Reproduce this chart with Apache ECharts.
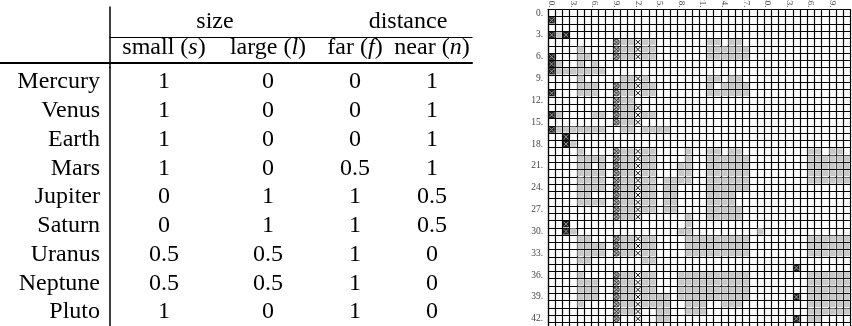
<!DOCTYPE html>
<html><head><meta charset="utf-8">
<script src="https://cdn.jsdelivr.net/npm/echarts@6/dist/echarts.min.js"></script>
<style>html,body{margin:0;padding:0;background:#fff}#c{width:852px;height:326px}</style>
</head><body><div id="c"></div>
<script>
// ---------- table data ----------
const planets = ['Mercury','Venus','Earth','Mars','Jupiter','Saturn','Uranus','Neptune','Pluto'];
const headerWords = ['small','large','far','near'];
const headerSymbols = ['s','l','f','n'];
const groupHeaders = ['size','distance'];
const smallVals = [1,1,1,1,0,0,0.5,0.5,1];
const largeVals = [0,0,0,0,1,1,0.5,0.5,0];
const farVals   = [0,0,0,0.5,1,1,1,1,1];
const nearVals  = [1,1,1,1,0.5,0.5,0,0,0];
const columnValues = [smallVals, largeVals, farVals, nearVals];

// ---------- matrix data ----------
const matrixCols = Array.from({length:42}, (_, i) => String(i));
const matrixRows = Array.from({length:44}, (_, i) => String(i));
// [row, firstCol, lastCol]
const grayRuns = [
 [3,1,1],
 [4,10,11],[4,13,14],[4,22,23],[4,25,26],
 [5,4,4],[5,10,11],[5,13,14],[5,22,27],
 [6,4,5],[6,10,11],[6,13,14],[6,22,27],
 [7,1,1],[7,4,4],[7,6,6],
 [8,1,7],
 [9,4,4],[9,10,11],[9,13,13],[9,22,23],[9,25,26],
 [10,4,6],[10,10,11],[10,13,14],[10,22,22],[10,24,27],
 [11,4,6],[11,10,11],[11,13,14],[11,22,27],
 [12,10,11],
 [13,10,11],
 [14,1,1],[14,6,7],[14,10,11],[14,13,14],
 [15,10,11],
 [16,1,7],[16,10,11],[16,13,16],
 [18,3,3],
 [19,4,4],[19,10,11],[19,13,14],[19,19,19],[19,22,23],[19,25,26],[19,36,37],[19,39,40],
 [20,4,7],[20,10,11],[20,13,14],[20,19,19],[20,22,27],[20,36,41],
 [21,4,5],[21,7,7],[21,10,11],[21,13,14],[21,18,19],[21,22,27],[21,36,41],
 [22,4,7],[22,10,11],[22,13,14],[22,18,19],[22,22,27],[22,36,41],
 [23,4,7],[23,10,11],[23,13,14],[23,16,19],[23,22,27],[23,36,41],
 [24,4,7],[24,10,11],[24,13,14],[24,16,17],[24,22,27],
 [25,4,5],[25,10,11],[25,13,14],[25,16,17],[25,22,25],
 [26,4,7],[26,10,11],[26,13,14],[26,16,17],[26,22,25],
 [27,10,11],[27,13,14],[27,16,17],[27,22,26],
 [28,10,11],[28,19,19],[28,22,26],
 [29,19,19],
 [30,3,3],[30,18,19],[30,29,29],
 [31,4,5],[31,10,11],[31,13,14],[31,19,27],[31,36,41],
 [32,4,7],[32,10,11],[32,13,14],[32,19,27],[32,36,41],
 [33,4,7],[33,10,11],[33,13,14],[33,19,27],[33,36,41],
 [34,4,5],[34,13,14],
 [36,4,4],[36,10,11],[36,13,14],[36,18,27],[36,36,41],
 [37,4,6],[37,10,11],[37,13,14],[37,18,27],[37,36,41],
 [38,4,6],[38,10,11],[38,13,14],[38,18,27],[38,36,41],
 [39,4,6],[39,10,11],[39,13,16],[39,18,27],[39,36,41],
 [40,4,4],[40,10,11],[40,13,16],[40,19,21],[40,24,26],[40,36,41],
 [41,10,11],[41,15,16],[41,19,21],[41,36,41],
 [42,15,16],[42,36,37]
];
// [col,row]
const darkCells = [[0,1],[0,3],[2,3],[0,6],[0,7],[0,8],[0,11],[0,14],[0,16],[2,17],[2,18],[2,29],[2,30],[34,35],[34,39],[34,42]];
const circleCol = 9;
const circleRows = [4,5,6,10,11,12,13,14,15,19,20,21,22,23,24,25,26,27,28,31,32,33,36,37,38,39,40,41,42];
const crossCol = 12;
const crossRows = [4,5,6,9,10,11,13,14,15,19,20,21,22,23,24,25,26,27,28,31,32,33,36,37,38,39,40,41,42];

// ---------- build ----------
const SERIF = 'Liberation Serif';
const FS = 24;
const grayData = [];
grayRuns.forEach(([r,a,b]) => { for (let c=a;c<=b;c++) grayData.push([c,r]); });

const chart = echarts.init(document.getElementById('c'), null, {renderer:'canvas'});

const tableTop = 67.6, tableH = 258.75;
const colGridLeft = [110, 218, 318, 392];
const colGridW = [108, 100, 74, 80];

const grids = [
  {left:0, top:tableTop, width:110, height:tableH},
];
colGridLeft.forEach((l,i)=>grids.push({left:l, top:tableTop, width:colGridW[i], height:tableH}));
grids.push({left:110, top:7, width:210, height:60.6});
grids.push({left:318, top:7, width:180, height:60.6});
grids.push({left:548, top:9.4, width:302.4, height:320.3});
grids.forEach(g=>{g.containLabel=false; g.outerBoundsMode='none';});

const xAxis = [], yAxis = [], series = [];
const noAxis = {show:false};
// name grid rule
xAxis.push({gridIndex:0, type:'category', data:[''], position:'top', offset:4.6,
  axisLine:{show:true, lineStyle:{color:'#000', width:2}}, axisTick:noAxis, axisLabel:noAxis, splitLine:noAxis});
yAxis.push({gridIndex:0, type:'category', data:planets, inverse:true, show:false});
// column grids
headerWords.forEach((w,i)=>{
  xAxis.push({gridIndex:i+1, type:'category', data:[w], position:'top', offset:4.6,
    axisLine:{show:true, lineStyle:{color:'#000', width:2}}, axisTick:noAxis, splitLine:noAxis,
    axisLabel:{show:true, margin:3, color:'#000', fontFamily:SERIF, fontSize:FS,
      formatter:(v)=> v + ' ({i|' + headerSymbols[i] + '})',
      rich:{i:{fontStyle:'italic', fontFamily:SERIF, fontSize:FS, color:'#000'}}}});
});
headerWords.forEach((w,i)=>{
  xAxis.push({gridIndex:i+1, type:'category', data:[w], position:'top', offset:30.6,
    axisLine:{show:true, lineStyle:{color:'#000', width:1.2}}, axisTick:noAxis, axisLabel:noAxis, splitLine:noAxis});
});
headerWords.forEach((w,i)=>{
  yAxis.push({gridIndex:i+1, type:'category', data:planets, inverse:true,
    show: i===0,
    axisLine:{show:true, lineStyle:{color:'#000', width:1.5}}, axisTick:noAxis, splitLine:noAxis,
    axisLabel:{show:true, interval:0, margin:10, color:'#000', fontFamily:SERIF, fontSize:FS}});
  series.push({type:'scatter', xAxisIndex:i+1, yAxisIndex:i+1, symbolSize:2,
    itemStyle:{color:'rgba(255,255,255,0)', opacity:1},
    data: planets.map((p,k)=>[w, p, columnValues[i][k]]),
    label:{show:true, position:'inside', color:'#000', opacity:1, fontFamily:SERIF, fontSize:FS,
      formatter:(p)=>String(p.value[2])}, labelLayout:{hideOverlap:false}, silent:true});
});
// group header grids
[5,6].forEach((gi,k)=>{
  xAxis.push({gridIndex:gi, type:'category', data:[groupHeaders[k]], position:'top',
    axisLine:noAxis, axisTick:noAxis, splitLine:noAxis,
    axisLabel:{show:true, inside:true, margin:3, color:'#000', fontFamily:SERIF, fontSize:FS, verticalAlign:'top'}});
  yAxis.push({gridIndex:gi, type:'category', data:[''], show: k===0,
    axisLine:{show:true, lineStyle:{color:'#000', width:1.5}}, axisTick:noAxis, axisLabel:noAxis, splitLine:noAxis});
});
// matrix
const MX = xAxis.length, MY = yAxis.length;
xAxis.push({gridIndex:7, type:'category', data:matrixCols, position:'top',
  axisLine:{show:true, lineStyle:{color:'#000', width:1.2}}, axisTick:noAxis,
  axisLabel:{show:true, interval:2, rotate:90, margin:2, fontSize:9, color:'#444', fontFamily:SERIF, formatter:v=>v+'.'},
  splitLine:{show:true, interval:0, lineStyle:{color:'#000', width:1.2}}});
yAxis.push({gridIndex:7, type:'category', data:matrixRows, inverse:true,
  axisLine:{show:true, lineStyle:{color:'#000', width:1.2}}, axisTick:noAxis,
  axisLabel:{show:true, interval:2, margin:5, fontSize:9.5, color:'#444', fontFamily:SERIF, formatter:v=>v+'.'},
  splitLine:{show:true, interval:0, lineStyle:{color:'#000', width:1.2}}});

function cellBox(api){
  const p = api.coord([api.value(0), api.value(1)]);
  const s = api.size([1,1]);
  return {cx:p[0], cy:p[1], w:s[0], h:s[1]};
}
series.push({type:'custom', xAxisIndex:MX, yAxisIndex:MY, data:grayData, silent:true,
  renderItem:(params, api)=>{ const b=cellBox(api);
    return {type:'rect', shape:{x:b.cx-b.w/2+0.6, y:b.cy-b.h/2+0.6, width:b.w-1.2, height:b.h-1.2}, style:{fill:'#c9c9c9'}}; }});
series.push({type:'custom', xAxisIndex:MX, yAxisIndex:MY, data:darkCells, silent:true,
  renderItem:(params, api)=>{ const b=cellBox(api); const x0=b.cx-b.w/2+0.5, y0=b.cy-b.h/2+0.5, w=b.w-1, h=b.h-1;
    return {type:'group', children:[
      {type:'rect', shape:{x:x0,y:y0,width:w,height:h}, style:{fill:'#1c1c1c'}},
      {type:'line', shape:{x1:x0+1,y1:y0+1,x2:x0+w-1,y2:y0+h-1}, style:{stroke:'#9a9a9a', lineWidth:1}},
      {type:'line', shape:{x1:x0+w-1,y1:y0+1,x2:x0+1,y2:y0+h-1}, style:{stroke:'#9a9a9a', lineWidth:1}}
    ]}; }});
series.push({type:'custom', xAxisIndex:MX, yAxisIndex:MY, data:circleRows.map(r=>[circleCol,r]), silent:true,
  renderItem:(params, api)=>{ const b=cellBox(api); const r=b.w*0.4, d=r*0.7;
    return {type:'group', children:[
      {type:'circle', shape:{cx:b.cx, cy:b.cy, r:r}, style:{fill:'#bdbdbd', stroke:'#222', lineWidth:0.9}},
      {type:'line', shape:{x1:b.cx-d,y1:b.cy-d,x2:b.cx+d,y2:b.cy+d}, style:{stroke:'#222', lineWidth:0.8}},
      {type:'line', shape:{x1:b.cx+d,y1:b.cy-d,x2:b.cx-d,y2:b.cy+d}, style:{stroke:'#222', lineWidth:0.8}}
    ]}; }});
series.push({type:'custom', xAxisIndex:MX, yAxisIndex:MY, data:crossRows.map(r=>[crossCol,r]), silent:true,
  renderItem:(params, api)=>{ const b=cellBox(api); const dx=b.w/2-1.2, dy=b.h/2-1.2;
    return {type:'group', children:[
      {type:'line', shape:{x1:b.cx-dx,y1:b.cy-dy,x2:b.cx+dx,y2:b.cy+dy}, style:{stroke:'#111', lineWidth:1}},
      {type:'line', shape:{x1:b.cx+dx,y1:b.cy-dy,x2:b.cx-dx,y2:b.cy+dy}, style:{stroke:'#111', lineWidth:1}}
    ]}; }});

chart.setOption({animation:false, backgroundColor:'#fff', grid:grids, xAxis, yAxis, series});
</script></body></html>
